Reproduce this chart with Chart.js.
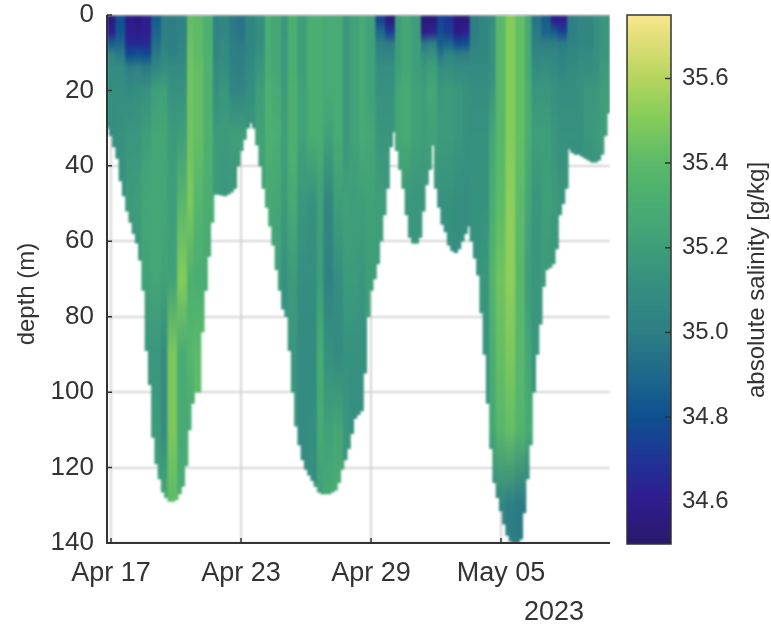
<!DOCTYPE html>
<html>
<head>
<meta charset="utf-8">
<title>absolute salinity section</title>
<script src="https://cdn.jsdelivr.net/npm/chart.js@4"></script>
<style>
  html, body { margin: 0; background: #fff; }
  canvas { position: absolute; top: 0; }
</style>
</head>
<body>
<canvas id="sectionChart" width="771" height="624" style="left:0"></canvas>
<canvas id="barChart" width="171" height="624" style="left:600px"></canvas>
<script>
const FONT = '"Liberation Sans", Arial, sans-serif';
const INK = '#333333';

/* ── AXES ── */
const xTickDays = [0, 6, 12, 18];
const xTickLabels = ['Apr 17', 'Apr 23', 'Apr 29', 'May 05'];
const yearLabel = '2023';
const yTicks = [0, 20, 40, 60, 80, 100, 120, 140];
const barTicks = [34.6, 34.8, 35, 35.2, 35.4, 35.6];

/* ── COLORMAP ── */
const colorValues = [34.5, 34.6, 34.7, 34.8, 34.9, 35, 35.1, 35.2, 35.3, 35.4, 35.5, 35.6, 35.7, 35.75];
const colorHex = ['#2a1a6b', '#2f1d90', '#1f3596', '#0f5290', '#1f6a8a', '#2e7f84', '#358e80', '#3f9e7a',
  '#4aad72', '#5cba69', '#84cc5a', '#b9d55f', '#e6e07e', '#fbe98f'];

/* ── DATA: dive floor (m), one value every 0.15 day from sampleStart ── */
const sampleStart = -0.14;
const sampleStep = 0.15;
const floorDepth = [
  30, 32, 35, 38, 44, 48, 52, 55, 58, 60.5, 65, 73, 89, 98, 112, 119, 123, 126.5, 128, 129,
  129, 128.5, 127, 125, 119.5, 110, 103, 100, 100, 84, 73, 64, 55, 47.6, 47.6, 47.8, 48, 47.5, 47, 46,
  40, 36, 33, 30, 28.6, 30, 34.5, 40, 46, 51, 56, 61, 67.5, 73, 78, 80, 89, 100, 109, 114,
  118, 120.5, 122, 123.5, 125, 126.5, 127, 127, 127, 126.5, 126, 124, 120.5, 118, 115, 111, 107, 106, 105, 95,
  80, 73, 70, 66, 60, 53, 46, 35, 31, 36, 41, 46, 53, 59, 60.5, 60.5, 59, 52, 45, 41,
  34.5, 46, 51, 55.5, 57.5, 61, 62.5, 63, 62, 60, 58, 56, 60, 64.5, 69, 79, 90, 103, 115, 124,
  128, 131.5, 135, 138, 139.5, 140, 140, 139, 132, 123, 114, 100, 90, 82, 72, 67.5, 67, 66, 62, 53,
  50, 46, 35.5, 36.5, 37, 37, 37.5, 38, 38.5, 39, 39, 38.5, 37, 32, 26
];

/* ── DATA: salinity, one array per sampled depth, one value every 0.4 day ── */
const salDepths = [1.5, 4.5, 7.5, 10.5, 14, 20, 32, 50, 70, 90, 110, 130];
const sal0to3 = [34.55,34.8,34.58,34.55,34.6,34.85,35,35,35.02,35.42,
  35.4,35.32,35.02,35.05,34.98,34.95,35.05,35.1,35.3,35.25,
  35.15,35.3,35.2,35.3,35.3,35.28,35.28,35.15,35.22,35.28,
  35.22,34.75,34.55,35.2,35.25,35.2,34.55,34.55,34.75,34.7,
  34.55,34.55,35,35.05,35.1,35.38,35.5,35.42,35.28,34.95,
  34.85,34.6,34.6,35,35.05,35.05,35.1,35.15];
const sal3to6 = [34.6,34.82,34.6,34.58,34.6,34.88,35,35,35.02,35.42,
  35.4,35.32,35.03,35.05,34.98,34.95,35.05,35.1,35.3,35.25,
  35.15,35.3,35.2,35.3,35.3,35.28,35.28,35.15,35.22,35.28,
  35.22,34.9,34.72,35.2,35.25,35.2,34.58,34.62,34.8,34.72,
  34.58,34.6,35,35.05,35.12,35.38,35.5,35.42,35.28,34.98,
  34.88,34.85,34.75,35,35.05,35.05,35.1,35.15];
const sal6to9 = [34.85,34.88,34.65,34.65,34.65,34.92,35.02,35,35.03,35.44,
  35.4,35.33,35.05,35.08,35,34.98,35.05,35.1,35.3,35.25,
  35.17,35.3,35.2,35.3,35.3,35.28,35.28,35.15,35.22,35.28,
  35.22,35,34.98,35.2,35.25,35.2,34.95,35,34.85,34.88,
  34.78,34.8,35.02,35.05,35.12,35.38,35.5,35.42,35.28,35,
  35,35,34.98,35.02,35.05,35.05,35.1,35.15];
const sal9to12 = [35.05,34.98,34.78,34.8,34.78,34.98,35.05,35.02,35.05,35.44,
  35.4,35.33,35.05,35.08,35,35,35.05,35.12,35.3,35.25,
  35.17,35.3,35.2,35.3,35.3,35.28,35.28,35.15,35.22,35.28,
  35.22,35.05,35.05,35.2,35.25,35.2,35.1,35.12,34.95,35.05,
  35,35,35.05,35.05,35.12,35.38,35.5,35.42,35.28,35.05,
  35.05,35.05,35.02,35.05,35.08,35.08,35.12,35.15];
const sal12to16 = [35.08,35.08,35,35.02,34.98,35.05,35.1,35.08,35.08,35.45,
  35.42,35.33,35.08,35.1,35.02,35,35.08,35.15,35.3,35.25,
  35.17,35.3,35.2,35.3,35.3,35.28,35.28,35.15,35.22,35.28,
  35.22,35.1,35.1,35.2,35.25,35.2,35.15,35.2,35.1,35.1,
  35.08,35.08,35.08,35.08,35.12,35.38,35.5,35.42,35.28,35.08,
  35.1,35.08,35.05,35.08,35.1,35.1,35.12,35.18];
const sal16to24 = [35.1,35.1,35.08,35.1,35.12,35.2,35.22,35.12,35.12,35.45,
  35.42,35.33,35.1,35.15,35.05,35.05,35.1,35.2,35.32,35.28,
  35.18,35.32,35.22,35.3,35.3,35.28,35.28,35.15,35.22,35.28,
  35.22,35.12,35.12,35.25,35.28,35.22,35.2,35.25,35.15,35.18,
  35.15,35.12,35.1,35.1,35.15,35.38,35.5,35.42,35.3,35.15,
  35.15,35.12,35.1,35.1,35.12,35.15,35.15,35.2];
const sal24to40 = [35.1,35.12,35.15,35.15,35.2,35.25,35.25,35.18,35.2,35.45,
  35.42,35.33,35.18,35.18,35.2,35.2,35.15,35.22,35.32,35.3,
  35.2,35.32,35.22,35.3,35.3,35.22,35.28,35.15,35.22,35.28,
  35.25,35.15,35.15,35.25,35.28,35.22,35.2,35.22,35.18,35.18,
  35.15,35.12,35.12,35.12,35.25,35.38,35.5,35.42,35.3,35.2,
  35.2,35.15,35.12,35.12,35.12,35.15,35.18,35.2];
const sal40to60 = [35.1,35.12,35.18,35.2,35.25,35.25,35.25,35.2,35.38,35.48,
  35.36,35.3,35.18,35.15,35.15,35.15,35.15,35.2,35.28,35.25,
  35.18,35.28,35.15,35.12,35.22,35.05,35.2,35.22,35.2,35.2,
  35.22,35.2,35.15,35.18,35.15,35.15,35.15,35.15,35.12,35.12,
  35.1,35.1,35.12,35.12,35.3,35.4,35.52,35.4,35.25,35.15,
  35.2,35.18,35.15,35.1,35.1,35.1,35.1,35.1];
const sal60to80 = [35.1,35.1,35.12,35.12,35.22,35.25,35.22,35.22,35.5,35.32,
  35.3,35.28,35.2,35.2,35.2,35.2,35.2,35.18,35.22,35.2,
  35.12,35.18,35.1,35.1,35.2,35.02,35.1,35.18,35.18,35.15,
  35.2,35.2,35.15,35.15,35.15,35.15,35.1,35.1,35.12,35.1,
  35.1,35.1,35.12,35.15,35.35,35.45,35.52,35.38,35.2,35.15,
  35.18,35.15,35.15,35.1,35.1,35.1,35.1,35.1];
const sal80to100 = [null,null,null,null,35.15,35.15,35.08,35.48,35.28,35.36,
  35.4,null,null,null,null,null,null,null,null,null,
  35.12,35.15,35.08,35.08,35.3,35.12,35.08,35.12,35.12,35.12,
  null,null,null,null,null,null,null,null,null,null,
  null,null,null,35.12,35.3,35.42,35.48,35.38,35.25,35.15,
  null,null,null,null,null,null,null,null];
const sal100to120 = [null,null,null,null,null,35.18,35.08,35.48,35.28,35.28,
  null,null,null,null,null,null,null,null,null,null,
  null,35.15,35.08,35.1,35.28,35.22,35.25,35.15,35.1,35.1,
  null,null,null,null,null,null,null,null,null,null,
  null,null,null,null,35.25,35.38,35.42,35.35,35.28,null,
  null,null,null,null,null,null,null,null];
const sal120to140 = [null,null,null,null,null,35.2,35.28,35.4,35.3,null,
  null,null,null,null,null,null,null,null,null,null,
  null,null,35.1,35.1,35.2,35.28,35.3,null,null,null,
  null,null,null,null,null,null,null,null,null,null,
  null,null,null,null,35.05,35.05,35,34.98,34.98,null,
  null,null,null,null,null,null,null,null];
const salBands = [sal0to3, sal3to6, sal6to9, sal9to12, sal12to16, sal16to24, sal24to40,
  sal40to60, sal60to80, sal80to100, sal100to120, sal120to140];
const salStep = 0.4;

/* ── COLOR LOOKUP ── */
function hexToRgb(hex) {
  return [1, 3, 5].map(i => parseInt(hex.slice(i, i + 2), 16));
}

function salColor(v) {
  let i = colorValues.findIndex(c => c >= v);
  if (i <= 0) return colorHex[Math.max(i, 0)];
  const t = (v - colorValues[i - 1]) / (colorValues[i] - colorValues[i - 1]);
  const a = hexToRgb(colorHex[i - 1]), b = hexToRgb(colorHex[i]);
  return `rgb(${a.map((c, k) => Math.round(c + (b[k] - c) * t)).join(',')})`;
}

/* ── SECTION CHART ── */
const columnFills = {};

// each profile gets a vertical gradient through its sampled depths
function columnFill(chart, col) {
  if (!chart.chartArea) return '#3f9e7a';
  if (columnFills[col]) return columnFills[col];
  const a = chart.chartArea;
  const grad = chart.ctx.createLinearGradient(0, a.top, 0, a.bottom);
  salDepths.forEach((d, b) => {
    const v = salBands[b][col];
    if (v !== null) grad.addColorStop(d / 140, salColor(v));
  });
  columnFills[col] = grad;
  return grad;
}

const softenMarks = {
  id: 'softenMarks',
  afterDatasetsDraw(chart) {
    const { ctx, canvas, chartArea: a } = chart;
    const copy = document.createElement('canvas');
    copy.width = canvas.width; copy.height = canvas.height;
    copy.getContext('2d').drawImage(canvas, 0, 0);
    ctx.save();
    ctx.beginPath();
    ctx.rect(a.left, a.top, a.right - a.left, a.bottom - a.top);
    ctx.clip();
    ctx.clearRect(a.left, a.top, a.right - a.left, a.bottom - a.top);
    ctx.filter = 'blur(1.3px)';
    ctx.drawImage(copy, 0, 0);
    ctx.restore();
  }
};

const inwardTicks = {
  id: 'inwardTicks',
  afterDraw(chart) {
    const { ctx, chartArea, scales } = chart;
    ctx.save();
    ctx.strokeStyle = INK;
    ctx.lineWidth = 2;
    ctx.beginPath();
    ctx.moveTo(chartArea.left, chartArea.top); ctx.lineTo(chartArea.left, chartArea.bottom);
    ctx.lineTo(chartArea.right, chartArea.bottom);
    ctx.stroke();
    ctx.lineWidth = 1.5;
    ctx.beginPath();
    xTickDays.forEach(d => {
      const px = scales.x.getPixelForValue(d);
      ctx.moveTo(px, chartArea.bottom); ctx.lineTo(px, chartArea.bottom - 5);
    });
    yTicks.forEach(d => {
      const py = scales.y.getPixelForValue(d);
      ctx.moveTo(chartArea.left, py); ctx.lineTo(chartArea.left + 5, py);
    });
    ctx.stroke();
    ctx.fillStyle = INK;
    ctx.font = `27px ${FONT}`;
    ctx.textAlign = 'center';
    ctx.textBaseline = 'alphabetic';
    ctx.fillText(yearLabel, 554, 620);
    ctx.translate(27, 294);
    ctx.rotate(-Math.PI / 2);
    ctx.font = `24px ${FONT}`;
    ctx.textBaseline = 'middle';
    ctx.fillText('depth (m)', 0, 0);
    ctx.restore();
  }
};

new Chart(document.getElementById('sectionChart'), {
  type: 'bar',
  data: {
    datasets: [{
      data: floorDepth.map((floor, i) => ({ x: sampleStart + i * sampleStep, y: [0, floor] })),
      backgroundColor: c => columnFill(c.chart, Math.min(Math.floor(c.dataIndex * sampleStep / salStep), sal0to3.length - 1)),
      borderWidth: 0, barThickness: 4
    }]
  },
  plugins: [softenMarks, inwardTicks],
  options: {
    responsive: false,
    animation: false,
    layout: { padding: { top: 15, right: 161, left: 0, bottom: 0 } },
    plugins: { legend: { display: false }, tooltip: { enabled: false } },
    scales: {
      x: {
        type: 'linear', min: -0.185, max: 23.03, offset: false,
        afterBuildTicks: s => { s.ticks = xTickDays.map(v => ({ value: v })); },
        afterFit: s => { s.height = 81; },
        border: { display: false },
        grid: { color: '#d4d4d4', lineWidth: 2, drawTicks: false, offset: false },
        ticks: {
          autoSkip: false, maxRotation: 0, padding: 14, color: INK,
          font: { family: FONT, size: 27 },
          callback: (v, i) => xTickLabels[i]
        }
      },
      y: {
        type: 'linear', reverse: true, min: 0, max: 140,
        afterBuildTicks: s => { s.ticks = yTicks.map(v => ({ value: v })); },
        afterFit: s => { s.width = 107; s.paddingTop = 0; s.paddingBottom = 0; },
        border: { display: false },
        grid: { color: '#d4d4d4', lineWidth: 2, drawTicks: false },
        ticks: { padding: 13, color: INK, font: { family: FONT, size: 26 } }
      }
    }
  }
});

/* ── COLOR BAR ── */
const barLevels = [];
for (let v = 34.5; v < 35.75; v += 0.005) barLevels.push(v);

const barFrame = {
  id: 'barFrame',
  afterDraw(chart) {
    const { ctx, chartArea, scales } = chart;
    ctx.save();
    ctx.strokeStyle = INK;
    ctx.lineWidth = 1.5;
    ctx.strokeRect(chartArea.left, chartArea.top, chartArea.right - chartArea.left, chartArea.bottom - chartArea.top);
    ctx.beginPath();
    barTicks.forEach(v => {
      const py = scales.y.getPixelForValue(v);
      ctx.moveTo(chartArea.right, py); ctx.lineTo(chartArea.right - 6, py);
    });
    ctx.stroke();
    ctx.translate(157, 280);
    ctx.rotate(-Math.PI / 2);
    ctx.fillStyle = INK;
    ctx.font = `24px ${FONT}`;
    ctx.textAlign = 'center';
    ctx.textBaseline = 'middle';
    ctx.fillText('absolute salinity [g/kg]', 0, 0);
    ctx.restore();
  }
};

new Chart(document.getElementById('barChart'), {
  type: 'bar',
  data: {
    labels: ['salinity'],
    datasets: barLevels.map(v => ({
      data: [[v, v + 0.008]],
      backgroundColor: salColor(v),
      borderWidth: 0, barPercentage: 1, categoryPercentage: 1, grouped: false
    }))
  },
  plugins: [barFrame],
  options: {
    responsive: false,
    animation: false,
    layout: { padding: { top: 15, left: 27, right: 0, bottom: 80 } },
    plugins: { legend: { display: false }, tooltip: { enabled: false } },
    scales: {
      x: { display: false },
      y: {
        type: 'linear', position: 'right', min: 34.5, max: 35.75,
        afterBuildTicks: s => { s.ticks = barTicks.map(v => ({ value: v })); },
        afterFit: s => { s.width = 100; s.paddingTop = 0; s.paddingBottom = 0; },
        border: { display: false },
        grid: { display: false },
        ticks: { padding: 3, color: INK, font: { family: FONT, size: 24 } }
      }
    }
  }
});
</script>
</body>
</html>
